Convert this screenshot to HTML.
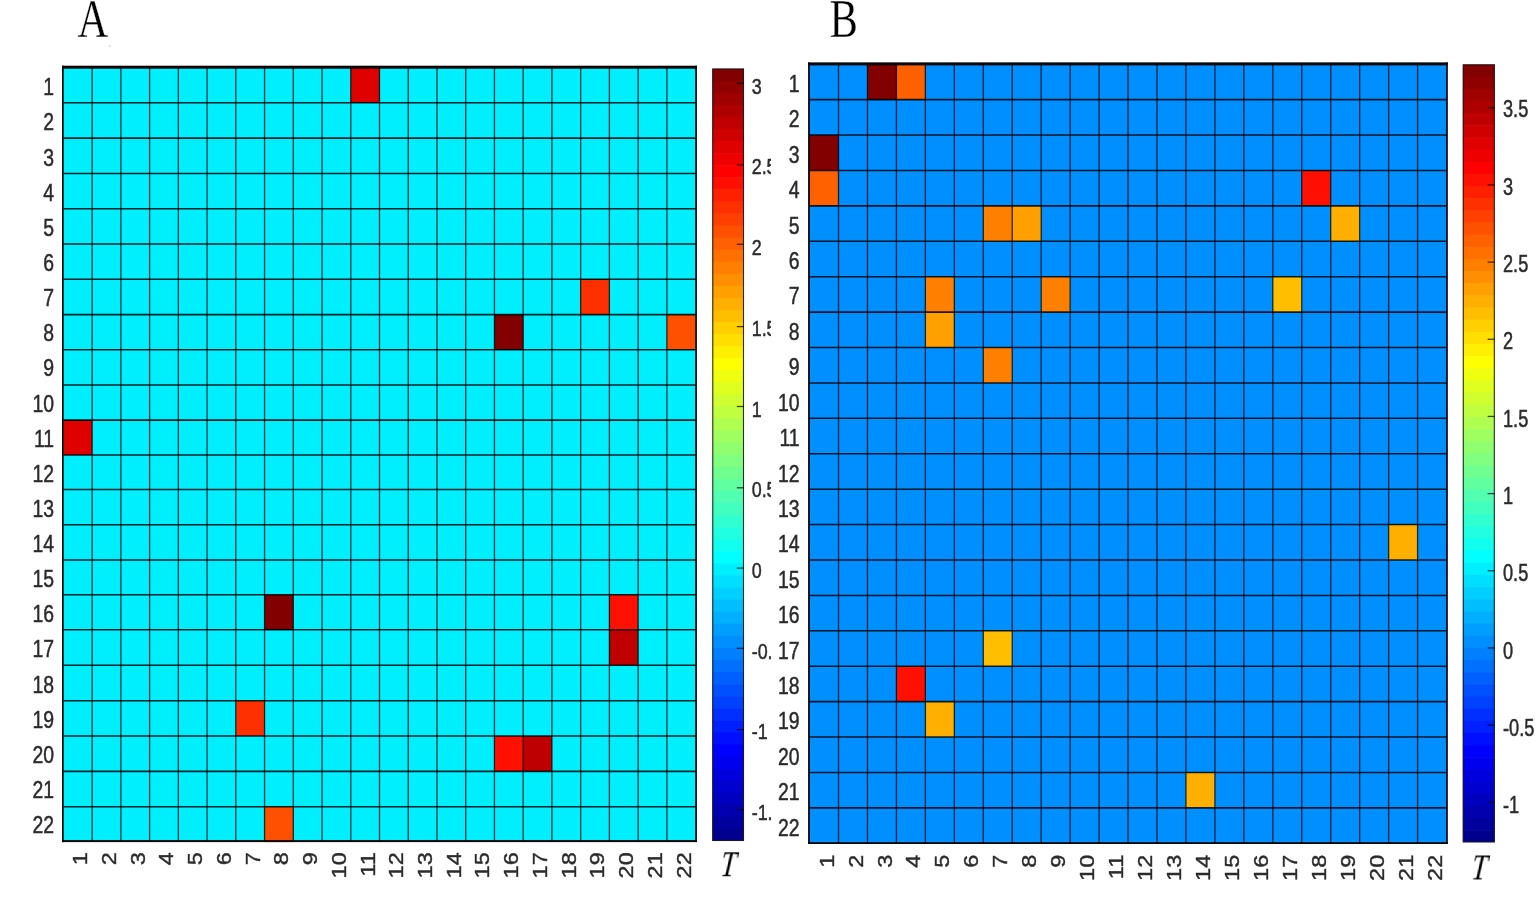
<!DOCTYPE html>
<html lang="en"><head><meta charset="utf-8"><title>Figure: T-value matrices A and B</title>
<style>
html,body{margin:0;padding:0;background:#fff;}
body{width:1535px;height:897px;overflow:hidden;}
svg{display:block;}
.fig{filter:blur(0.6px);}
.t{font-family:"Liberation Sans",sans-serif;fill:#2b2b2b;stroke:#2b2b2b;stroke-width:0.4px;}
.s{font-family:"Liberation Serif",serif;fill:#000;stroke:#fff;stroke-width:0.25px;}
</style></head><body>
<svg width="1535" height="897" viewBox="0 0 1535 897">
<rect width="1535" height="897" fill="#fff"/>
<g id="panelA">
<g class="fig">
<rect x="62.50" y="66.20" width="633.90" height="775.40" fill="#00efff"/>
<rect x="350.76" y="67.90" width="28.74" height="34.90" fill="#df0000"/>
<rect x="580.65" y="279.30" width="28.74" height="35.30" fill="#ff3000"/>
<rect x="494.45" y="314.60" width="28.74" height="35.10" fill="#820000"/>
<rect x="666.86" y="314.60" width="28.74" height="35.10" fill="#ff5000"/>
<rect x="63.40" y="420.10" width="28.74" height="34.90" fill="#df0000"/>
<rect x="264.55" y="594.70" width="28.74" height="35.10" fill="#820000"/>
<rect x="609.39" y="594.70" width="28.74" height="35.10" fill="#ff1000"/>
<rect x="609.39" y="629.80" width="28.74" height="35.45" fill="#bf0000"/>
<rect x="235.82" y="700.67" width="28.74" height="35.33" fill="#ff3000"/>
<rect x="494.45" y="736.00" width="28.74" height="35.35" fill="#ff1000"/>
<rect x="523.18" y="736.00" width="28.74" height="35.35" fill="#bf0000"/>
<rect x="264.55" y="806.70" width="28.74" height="35.40" fill="#ff5000"/>
<path d="M92.14 67.90V842.10M120.87 67.90V842.10M149.61 67.90V842.10M178.35 67.90V842.10M207.08 67.90V842.10M235.82 67.90V842.10M264.55 67.90V842.10M293.29 67.90V842.10M322.03 67.90V842.10M350.76 67.90V842.10M379.50 67.90V842.10M408.24 67.90V842.10M436.97 67.90V842.10M465.71 67.90V842.10M494.45 67.90V842.10M523.18 67.90V842.10M551.92 67.90V842.10M580.65 67.90V842.10M609.39 67.90V842.10M638.13 67.90V842.10M666.86 67.90V842.10" stroke="#000" stroke-opacity="0.76" stroke-width="1.3" fill="none"/>
<path d="M63.40 102.80H695.60M63.40 138.10H695.60M63.40 173.40H695.60M63.40 208.70H695.60M63.40 244.00H695.60M63.40 279.30H695.60M63.40 314.60H695.60M63.40 349.70H695.60M63.40 384.90H695.60M63.40 420.10H695.60M63.40 455.00H695.60M63.40 489.50H695.60M63.40 524.65H695.60M63.40 559.95H695.60M63.40 594.70H695.60M63.40 629.80H695.60M63.40 665.25H695.60M63.40 700.67H695.60M63.40 736.00H695.60M63.40 771.35H695.60M63.40 806.70H695.60" stroke="#000" stroke-opacity="0.85" stroke-width="1.55" fill="none"/>
<rect x="62.00" y="65.70" width="634.90" height="3.00" fill="#0a0505"/>
<rect x="62.00" y="840.10" width="634.90" height="2.00" fill="#0a0505"/>
<rect x="62.00" y="65.70" width="1.70" height="776.40" fill="#0a0505"/>
<rect x="695.20" y="65.70" width="1.70" height="776.40" fill="#0a0505"/>
<text class="t" text-anchor="end" font-size="19.40" transform="translate(54.10 87.05) scale(1 1.210)" y="6.77">1</text>
<text class="t" text-anchor="end" font-size="19.40" transform="translate(54.10 122.19) scale(1 1.210)" y="6.77">2</text>
<text class="t" text-anchor="end" font-size="19.40" transform="translate(54.10 157.33) scale(1 1.210)" y="6.77">3</text>
<text class="t" text-anchor="end" font-size="19.40" transform="translate(54.10 192.47) scale(1 1.210)" y="6.77">4</text>
<text class="t" text-anchor="end" font-size="19.40" transform="translate(54.10 227.61) scale(1 1.210)" y="6.77">5</text>
<text class="t" text-anchor="end" font-size="19.40" transform="translate(54.10 262.75) scale(1 1.210)" y="6.77">6</text>
<text class="t" text-anchor="end" font-size="19.40" transform="translate(54.10 297.89) scale(1 1.210)" y="6.77">7</text>
<text class="t" text-anchor="end" font-size="19.40" transform="translate(54.10 333.03) scale(1 1.210)" y="6.77">8</text>
<text class="t" text-anchor="end" font-size="19.40" transform="translate(54.10 368.17) scale(1 1.210)" y="6.77">9</text>
<text class="t" text-anchor="end" font-size="19.40" transform="translate(54.10 403.31) scale(1 1.210)" y="6.77">10</text>
<text class="t" text-anchor="end" font-size="19.40" transform="translate(54.10 438.45) scale(1 1.210)" y="6.77">11</text>
<text class="t" text-anchor="end" font-size="19.40" transform="translate(54.10 473.60) scale(1 1.210)" y="6.77">12</text>
<text class="t" text-anchor="end" font-size="19.40" transform="translate(54.10 508.74) scale(1 1.210)" y="6.77">13</text>
<text class="t" text-anchor="end" font-size="19.40" transform="translate(54.10 543.88) scale(1 1.210)" y="6.77">14</text>
<text class="t" text-anchor="end" font-size="19.40" transform="translate(54.10 579.02) scale(1 1.210)" y="6.77">15</text>
<text class="t" text-anchor="end" font-size="19.40" transform="translate(54.10 614.16) scale(1 1.210)" y="6.77">16</text>
<text class="t" text-anchor="end" font-size="19.40" transform="translate(54.10 649.30) scale(1 1.210)" y="6.77">17</text>
<text class="t" text-anchor="end" font-size="19.40" transform="translate(54.10 684.44) scale(1 1.210)" y="6.77">18</text>
<text class="t" text-anchor="end" font-size="19.40" transform="translate(54.10 719.58) scale(1 1.210)" y="6.77">19</text>
<text class="t" text-anchor="end" font-size="19.40" transform="translate(54.10 754.72) scale(1 1.210)" y="6.77">20</text>
<text class="t" text-anchor="end" font-size="19.40" transform="translate(54.10 789.86) scale(1 1.210)" y="6.77">21</text>
<text class="t" text-anchor="end" font-size="19.40" transform="translate(54.10 825.00) scale(1 1.210)" y="6.77">22</text>
<text class="t" text-anchor="end" font-size="19.40" transform="translate(80.37 852.30) scale(1 1.210) rotate(-90)" y="6.77">1</text>
<text class="t" text-anchor="end" font-size="19.40" transform="translate(109.10 852.30) scale(1 1.210) rotate(-90)" y="6.77">2</text>
<text class="t" text-anchor="end" font-size="19.40" transform="translate(137.84 852.30) scale(1 1.210) rotate(-90)" y="6.77">3</text>
<text class="t" text-anchor="end" font-size="19.40" transform="translate(166.58 852.30) scale(1 1.210) rotate(-90)" y="6.77">4</text>
<text class="t" text-anchor="end" font-size="19.40" transform="translate(195.31 852.30) scale(1 1.210) rotate(-90)" y="6.77">5</text>
<text class="t" text-anchor="end" font-size="19.40" transform="translate(224.05 852.30) scale(1 1.210) rotate(-90)" y="6.77">6</text>
<text class="t" text-anchor="end" font-size="19.40" transform="translate(252.79 852.30) scale(1 1.210) rotate(-90)" y="6.77">7</text>
<text class="t" text-anchor="end" font-size="19.40" transform="translate(281.52 852.30) scale(1 1.210) rotate(-90)" y="6.77">8</text>
<text class="t" text-anchor="end" font-size="19.40" transform="translate(310.26 852.30) scale(1 1.210) rotate(-90)" y="6.77">9</text>
<text class="t" text-anchor="end" font-size="19.40" transform="translate(339.00 852.30) scale(1 1.210) rotate(-90)" y="6.77">10</text>
<text class="t" text-anchor="end" font-size="19.40" transform="translate(367.73 852.30) scale(1 1.210) rotate(-90)" y="6.77">11</text>
<text class="t" text-anchor="end" font-size="19.40" transform="translate(396.47 852.30) scale(1 1.210) rotate(-90)" y="6.77">12</text>
<text class="t" text-anchor="end" font-size="19.40" transform="translate(425.20 852.30) scale(1 1.210) rotate(-90)" y="6.77">13</text>
<text class="t" text-anchor="end" font-size="19.40" transform="translate(453.94 852.30) scale(1 1.210) rotate(-90)" y="6.77">14</text>
<text class="t" text-anchor="end" font-size="19.40" transform="translate(482.68 852.30) scale(1 1.210) rotate(-90)" y="6.77">15</text>
<text class="t" text-anchor="end" font-size="19.40" transform="translate(511.41 852.30) scale(1 1.210) rotate(-90)" y="6.77">16</text>
<text class="t" text-anchor="end" font-size="19.40" transform="translate(540.15 852.30) scale(1 1.210) rotate(-90)" y="6.77">17</text>
<text class="t" text-anchor="end" font-size="19.40" transform="translate(568.89 852.30) scale(1 1.210) rotate(-90)" y="6.77">18</text>
<text class="t" text-anchor="end" font-size="19.40" transform="translate(597.62 852.30) scale(1 1.210) rotate(-90)" y="6.77">19</text>
<text class="t" text-anchor="end" font-size="19.40" transform="translate(626.36 852.30) scale(1 1.210) rotate(-90)" y="6.77">20</text>
<text class="t" text-anchor="end" font-size="19.40" transform="translate(655.10 852.30) scale(1 1.210) rotate(-90)" y="6.77">21</text>
<text class="t" text-anchor="end" font-size="19.40" transform="translate(683.83 852.30) scale(1 1.210) rotate(-90)" y="6.77">22</text>
<rect x="712.30" y="68.60" width="31.70" height="12.67" fill="#820000"/>
<rect x="712.30" y="80.67" width="31.70" height="12.67" fill="#8f0000"/>
<rect x="712.30" y="92.74" width="31.70" height="12.67" fill="#9f0000"/>
<rect x="712.30" y="104.81" width="31.70" height="12.67" fill="#af0000"/>
<rect x="712.30" y="116.88" width="31.70" height="12.67" fill="#bf0000"/>
<rect x="712.30" y="128.94" width="31.70" height="12.67" fill="#cf0000"/>
<rect x="712.30" y="141.01" width="31.70" height="12.67" fill="#df0000"/>
<rect x="712.30" y="153.08" width="31.70" height="12.67" fill="#ef0000"/>
<rect x="712.30" y="165.15" width="31.70" height="12.67" fill="#ff0000"/>
<rect x="712.30" y="177.22" width="31.70" height="12.67" fill="#ff1000"/>
<rect x="712.30" y="189.29" width="31.70" height="12.67" fill="#ff2000"/>
<rect x="712.30" y="201.36" width="31.70" height="12.67" fill="#ff3000"/>
<rect x="712.30" y="213.42" width="31.70" height="12.67" fill="#ff4000"/>
<rect x="712.30" y="225.49" width="31.70" height="12.67" fill="#ff5000"/>
<rect x="712.30" y="237.56" width="31.70" height="12.67" fill="#ff6000"/>
<rect x="712.30" y="249.63" width="31.70" height="12.67" fill="#ff7000"/>
<rect x="712.30" y="261.70" width="31.70" height="12.67" fill="#ff8000"/>
<rect x="712.30" y="273.77" width="31.70" height="12.67" fill="#ff8f00"/>
<rect x="712.30" y="285.84" width="31.70" height="12.67" fill="#ff9f00"/>
<rect x="712.30" y="297.91" width="31.70" height="12.67" fill="#ffaf00"/>
<rect x="712.30" y="309.98" width="31.70" height="12.67" fill="#ffbf00"/>
<rect x="712.30" y="322.04" width="31.70" height="12.67" fill="#ffcf00"/>
<rect x="712.30" y="334.11" width="31.70" height="12.67" fill="#ffdf00"/>
<rect x="712.30" y="346.18" width="31.70" height="12.67" fill="#ffef00"/>
<rect x="712.30" y="358.25" width="31.70" height="12.67" fill="#ffff00"/>
<rect x="712.30" y="370.32" width="31.70" height="12.67" fill="#efff10"/>
<rect x="712.30" y="382.39" width="31.70" height="12.67" fill="#dfff20"/>
<rect x="712.30" y="394.46" width="31.70" height="12.67" fill="#cfff30"/>
<rect x="712.30" y="406.52" width="31.70" height="12.67" fill="#bfff40"/>
<rect x="712.30" y="418.59" width="31.70" height="12.67" fill="#afff50"/>
<rect x="712.30" y="430.66" width="31.70" height="12.67" fill="#9fff60"/>
<rect x="712.30" y="442.73" width="31.70" height="12.67" fill="#8fff70"/>
<rect x="712.30" y="454.80" width="31.70" height="12.67" fill="#80ff80"/>
<rect x="712.30" y="466.87" width="31.70" height="12.67" fill="#70ff8f"/>
<rect x="712.30" y="478.94" width="31.70" height="12.67" fill="#60ff9f"/>
<rect x="712.30" y="491.01" width="31.70" height="12.67" fill="#50ffaf"/>
<rect x="712.30" y="503.07" width="31.70" height="12.67" fill="#40ffbf"/>
<rect x="712.30" y="515.14" width="31.70" height="12.67" fill="#30ffcf"/>
<rect x="712.30" y="527.21" width="31.70" height="12.67" fill="#20ffdf"/>
<rect x="712.30" y="539.28" width="31.70" height="12.67" fill="#10ffef"/>
<rect x="712.30" y="551.35" width="31.70" height="12.67" fill="#00ffff"/>
<rect x="712.30" y="563.42" width="31.70" height="12.67" fill="#00efff"/>
<rect x="712.30" y="575.49" width="31.70" height="12.67" fill="#00dfff"/>
<rect x="712.30" y="587.56" width="31.70" height="12.67" fill="#00cfff"/>
<rect x="712.30" y="599.62" width="31.70" height="12.67" fill="#00bfff"/>
<rect x="712.30" y="611.69" width="31.70" height="12.67" fill="#00afff"/>
<rect x="712.30" y="623.76" width="31.70" height="12.67" fill="#009fff"/>
<rect x="712.30" y="635.83" width="31.70" height="12.67" fill="#008fff"/>
<rect x="712.30" y="647.90" width="31.70" height="12.67" fill="#0080ff"/>
<rect x="712.30" y="659.97" width="31.70" height="12.67" fill="#0070ff"/>
<rect x="712.30" y="672.04" width="31.70" height="12.67" fill="#0060ff"/>
<rect x="712.30" y="684.11" width="31.70" height="12.67" fill="#0050ff"/>
<rect x="712.30" y="696.17" width="31.70" height="12.67" fill="#0040ff"/>
<rect x="712.30" y="708.24" width="31.70" height="12.67" fill="#0030ff"/>
<rect x="712.30" y="720.31" width="31.70" height="12.67" fill="#0020ff"/>
<rect x="712.30" y="732.38" width="31.70" height="12.67" fill="#0010ff"/>
<rect x="712.30" y="744.45" width="31.70" height="12.67" fill="#0000ff"/>
<rect x="712.30" y="756.52" width="31.70" height="12.67" fill="#0000ef"/>
<rect x="712.30" y="768.59" width="31.70" height="12.67" fill="#0000df"/>
<rect x="712.30" y="780.66" width="31.70" height="12.67" fill="#0000cf"/>
<rect x="712.30" y="792.73" width="31.70" height="12.67" fill="#0000bf"/>
<rect x="712.30" y="804.79" width="31.70" height="12.67" fill="#0000af"/>
<rect x="712.30" y="816.86" width="31.70" height="12.67" fill="#00009f"/>
<rect x="712.30" y="828.93" width="31.70" height="12.07" fill="#00008f"/>
<rect x="712.80" y="69.10" width="30.70" height="771.40" fill="none" stroke="#1a1a1a" stroke-opacity="0.9" stroke-width="1.1"/>
<clipPath id="clipA"><rect x="0" y="0" width="770.60" height="897"/></clipPath>
<g clip-path="url(#clipA)">
<rect x="736.80" y="82.65" width="7.20" height="1.3" fill="#000" fill-opacity="0.7"/>
<text class="t" font-size="17.90" transform="translate(751.70 85.90) scale(1 1.250)" y="6.25">3</text>
<rect x="736.80" y="164.25" width="7.20" height="1.3" fill="#000" fill-opacity="0.7"/>
<text class="t" font-size="17.90" transform="translate(751.70 166.62) scale(1 1.250)" y="6.25">2.5</text>
<rect x="736.80" y="243.65" width="7.20" height="1.3" fill="#000" fill-opacity="0.7"/>
<text class="t" font-size="17.90" transform="translate(751.70 247.34) scale(1 1.250)" y="6.25">2</text>
<rect x="736.80" y="325.95" width="7.20" height="1.3" fill="#000" fill-opacity="0.7"/>
<text class="t" font-size="17.90" transform="translate(751.70 328.06) scale(1 1.250)" y="6.25">1.5</text>
<rect x="736.80" y="405.85" width="7.20" height="1.3" fill="#000" fill-opacity="0.7"/>
<text class="t" font-size="17.90" transform="translate(751.70 408.78) scale(1 1.250)" y="6.25">1</text>
<rect x="736.80" y="487.15" width="7.20" height="1.3" fill="#000" fill-opacity="0.7"/>
<text class="t" font-size="17.90" transform="translate(751.70 489.50) scale(1 1.250)" y="6.25">0.5</text>
<rect x="736.80" y="567.45" width="7.20" height="1.3" fill="#000" fill-opacity="0.7"/>
<text class="t" font-size="17.90" transform="translate(751.70 570.22) scale(1 1.250)" y="6.25">0</text>
<rect x="736.80" y="647.65" width="7.20" height="1.3" fill="#000" fill-opacity="0.7"/>
<text class="t" font-size="17.90" transform="translate(751.70 650.94) scale(1 1.250)" y="6.25">-0.5</text>
<rect x="736.80" y="729.05" width="7.20" height="1.3" fill="#000" fill-opacity="0.7"/>
<text class="t" font-size="17.90" transform="translate(751.70 731.66) scale(1 1.250)" y="6.25">-1</text>
<rect x="736.80" y="809.15" width="7.20" height="1.3" fill="#000" fill-opacity="0.7"/>
<text class="t" font-size="17.90" transform="translate(751.70 812.38) scale(1 1.250)" y="6.25">-1.5</text>
</g>
</g>
<g class="ann">
<text class="s" font-size="42.6" transform="translate(77.50 36.60) scale(1 1.270)">A</text>
<text class="s" style="stroke:none" font-style="italic" font-size="28" transform="translate(719.80 875.80) scale(1 1.290) skewX(-7)">T</text>
</g>
</g>
<g id="panelB">
<g class="fig">
<rect x="808.60" y="62.90" width="638.70" height="780.60" fill="#008fff"/>
<rect x="867.47" y="64.21" width="28.95" height="35.41" fill="#820000"/>
<rect x="896.42" y="64.21" width="28.95" height="35.41" fill="#ff6000"/>
<rect x="809.56" y="135.04" width="28.95" height="35.41" fill="#820000"/>
<rect x="809.56" y="170.45" width="28.95" height="35.41" fill="#ff6000"/>
<rect x="1301.76" y="170.45" width="28.95" height="35.41" fill="#ff1000"/>
<rect x="983.28" y="205.86" width="28.95" height="35.41" fill="#ff8000"/>
<rect x="1012.23" y="205.86" width="28.95" height="35.41" fill="#ff9f00"/>
<rect x="1330.72" y="205.86" width="28.95" height="35.41" fill="#ffaf00"/>
<rect x="925.37" y="276.69" width="28.95" height="35.41" fill="#ff8000"/>
<rect x="1041.19" y="276.69" width="28.95" height="35.41" fill="#ff8000"/>
<rect x="1272.81" y="276.69" width="28.95" height="35.41" fill="#ffbf00"/>
<rect x="925.37" y="312.10" width="28.95" height="35.41" fill="#ff9f00"/>
<rect x="983.28" y="347.51" width="28.95" height="35.41" fill="#ff8000"/>
<rect x="1388.62" y="524.58" width="28.95" height="35.41" fill="#ffaf00"/>
<rect x="983.28" y="630.81" width="28.95" height="35.41" fill="#ffbf00"/>
<rect x="896.42" y="666.23" width="28.95" height="35.41" fill="#ff1000"/>
<rect x="925.37" y="701.64" width="28.95" height="35.41" fill="#ffaf00"/>
<rect x="1185.95" y="772.46" width="28.95" height="35.41" fill="#ffaf00"/>
<path d="M838.51 64.21V843.29M867.47 64.21V843.29M896.42 64.21V843.29M925.37 64.21V843.29M954.33 64.21V843.29M983.28 64.21V843.29M1012.23 64.21V843.29M1041.19 64.21V843.29M1070.14 64.21V843.29M1099.09 64.21V843.29M1128.05 64.21V843.29M1157.00 64.21V843.29M1185.95 64.21V843.29M1214.90 64.21V843.29M1243.86 64.21V843.29M1272.81 64.21V843.29M1301.76 64.21V843.29M1330.72 64.21V843.29M1359.67 64.21V843.29M1388.62 64.21V843.29M1417.58 64.21V843.29" stroke="#000" stroke-opacity="0.76" stroke-width="1.3" fill="none"/>
<path d="M809.56 99.62H1446.53M809.56 135.04H1446.53M809.56 170.45H1446.53M809.56 205.86H1446.53M809.56 241.27H1446.53M809.56 276.69H1446.53M809.56 312.10H1446.53M809.56 347.51H1446.53M809.56 382.92H1446.53M809.56 418.34H1446.53M809.56 453.75H1446.53M809.56 489.16H1446.53M809.56 524.58H1446.53M809.56 559.99H1446.53M809.56 595.40H1446.53M809.56 630.81H1446.53M809.56 666.23H1446.53M809.56 701.64H1446.53M809.56 737.05H1446.53M809.56 772.46H1446.53M809.56 807.88H1446.53" stroke="#000" stroke-opacity="0.85" stroke-width="1.55" fill="none"/>
<rect x="808.10" y="62.40" width="639.70" height="3.00" fill="#0a0505"/>
<rect x="808.10" y="842.20" width="639.70" height="1.80" fill="#0a0505"/>
<rect x="808.10" y="62.40" width="1.80" height="781.60" fill="#0a0505"/>
<rect x="1446.10" y="62.40" width="1.70" height="781.60" fill="#0a0505"/>
<text class="t" text-anchor="end" font-size="19.40" transform="translate(799.60 83.82) scale(1 1.210)" y="6.77">1</text>
<text class="t" text-anchor="end" font-size="19.40" transform="translate(799.60 119.23) scale(1 1.210)" y="6.77">2</text>
<text class="t" text-anchor="end" font-size="19.40" transform="translate(799.60 154.64) scale(1 1.210)" y="6.77">3</text>
<text class="t" text-anchor="end" font-size="19.40" transform="translate(799.60 190.05) scale(1 1.210)" y="6.77">4</text>
<text class="t" text-anchor="end" font-size="19.40" transform="translate(799.60 225.47) scale(1 1.210)" y="6.77">5</text>
<text class="t" text-anchor="end" font-size="19.40" transform="translate(799.60 260.88) scale(1 1.210)" y="6.77">6</text>
<text class="t" text-anchor="end" font-size="19.40" transform="translate(799.60 296.29) scale(1 1.210)" y="6.77">7</text>
<text class="t" text-anchor="end" font-size="19.40" transform="translate(799.60 331.71) scale(1 1.210)" y="6.77">8</text>
<text class="t" text-anchor="end" font-size="19.40" transform="translate(799.60 367.12) scale(1 1.210)" y="6.77">9</text>
<text class="t" text-anchor="end" font-size="19.40" transform="translate(799.60 402.53) scale(1 1.210)" y="6.77">10</text>
<text class="t" text-anchor="end" font-size="19.40" transform="translate(799.60 437.94) scale(1 1.210)" y="6.77">11</text>
<text class="t" text-anchor="end" font-size="19.40" transform="translate(799.60 473.36) scale(1 1.210)" y="6.77">12</text>
<text class="t" text-anchor="end" font-size="19.40" transform="translate(799.60 508.77) scale(1 1.210)" y="6.77">13</text>
<text class="t" text-anchor="end" font-size="19.40" transform="translate(799.60 544.18) scale(1 1.210)" y="6.77">14</text>
<text class="t" text-anchor="end" font-size="19.40" transform="translate(799.60 579.59) scale(1 1.210)" y="6.77">15</text>
<text class="t" text-anchor="end" font-size="19.40" transform="translate(799.60 615.01) scale(1 1.210)" y="6.77">16</text>
<text class="t" text-anchor="end" font-size="19.40" transform="translate(799.60 650.42) scale(1 1.210)" y="6.77">17</text>
<text class="t" text-anchor="end" font-size="19.40" transform="translate(799.60 685.83) scale(1 1.210)" y="6.77">18</text>
<text class="t" text-anchor="end" font-size="19.40" transform="translate(799.60 721.25) scale(1 1.210)" y="6.77">19</text>
<text class="t" text-anchor="end" font-size="19.40" transform="translate(799.60 756.66) scale(1 1.210)" y="6.77">20</text>
<text class="t" text-anchor="end" font-size="19.40" transform="translate(799.60 792.07) scale(1 1.210)" y="6.77">21</text>
<text class="t" text-anchor="end" font-size="19.40" transform="translate(799.60 827.48) scale(1 1.210)" y="6.77">22</text>
<text class="t" text-anchor="end" font-size="19.40" transform="translate(826.84 854.80) scale(1 1.210) rotate(-90)" y="6.77">1</text>
<text class="t" text-anchor="end" font-size="19.40" transform="translate(855.79 854.80) scale(1 1.210) rotate(-90)" y="6.77">2</text>
<text class="t" text-anchor="end" font-size="19.40" transform="translate(884.74 854.80) scale(1 1.210) rotate(-90)" y="6.77">3</text>
<text class="t" text-anchor="end" font-size="19.40" transform="translate(913.70 854.80) scale(1 1.210) rotate(-90)" y="6.77">4</text>
<text class="t" text-anchor="end" font-size="19.40" transform="translate(942.65 854.80) scale(1 1.210) rotate(-90)" y="6.77">5</text>
<text class="t" text-anchor="end" font-size="19.40" transform="translate(971.60 854.80) scale(1 1.210) rotate(-90)" y="6.77">6</text>
<text class="t" text-anchor="end" font-size="19.40" transform="translate(1000.56 854.80) scale(1 1.210) rotate(-90)" y="6.77">7</text>
<text class="t" text-anchor="end" font-size="19.40" transform="translate(1029.51 854.80) scale(1 1.210) rotate(-90)" y="6.77">8</text>
<text class="t" text-anchor="end" font-size="19.40" transform="translate(1058.46 854.80) scale(1 1.210) rotate(-90)" y="6.77">9</text>
<text class="t" text-anchor="end" font-size="19.40" transform="translate(1087.42 854.80) scale(1 1.210) rotate(-90)" y="6.77">10</text>
<text class="t" text-anchor="end" font-size="19.40" transform="translate(1116.37 854.80) scale(1 1.210) rotate(-90)" y="6.77">11</text>
<text class="t" text-anchor="end" font-size="19.40" transform="translate(1145.32 854.80) scale(1 1.210) rotate(-90)" y="6.77">12</text>
<text class="t" text-anchor="end" font-size="19.40" transform="translate(1174.27 854.80) scale(1 1.210) rotate(-90)" y="6.77">13</text>
<text class="t" text-anchor="end" font-size="19.40" transform="translate(1203.23 854.80) scale(1 1.210) rotate(-90)" y="6.77">14</text>
<text class="t" text-anchor="end" font-size="19.40" transform="translate(1232.18 854.80) scale(1 1.210) rotate(-90)" y="6.77">15</text>
<text class="t" text-anchor="end" font-size="19.40" transform="translate(1261.13 854.80) scale(1 1.210) rotate(-90)" y="6.77">16</text>
<text class="t" text-anchor="end" font-size="19.40" transform="translate(1290.09 854.80) scale(1 1.210) rotate(-90)" y="6.77">17</text>
<text class="t" text-anchor="end" font-size="19.40" transform="translate(1319.04 854.80) scale(1 1.210) rotate(-90)" y="6.77">18</text>
<text class="t" text-anchor="end" font-size="19.40" transform="translate(1347.99 854.80) scale(1 1.210) rotate(-90)" y="6.77">19</text>
<text class="t" text-anchor="end" font-size="19.40" transform="translate(1376.95 854.80) scale(1 1.210) rotate(-90)" y="6.77">20</text>
<text class="t" text-anchor="end" font-size="19.40" transform="translate(1405.90 854.80) scale(1 1.210) rotate(-90)" y="6.77">21</text>
<text class="t" text-anchor="end" font-size="19.40" transform="translate(1434.85 854.80) scale(1 1.210) rotate(-90)" y="6.77">22</text>
<rect x="1462.80" y="64.40" width="32.00" height="12.75" fill="#820000"/>
<rect x="1462.80" y="76.55" width="32.00" height="12.75" fill="#8f0000"/>
<rect x="1462.80" y="88.71" width="32.00" height="12.75" fill="#9f0000"/>
<rect x="1462.80" y="100.86" width="32.00" height="12.75" fill="#af0000"/>
<rect x="1462.80" y="113.02" width="32.00" height="12.75" fill="#bf0000"/>
<rect x="1462.80" y="125.17" width="32.00" height="12.75" fill="#cf0000"/>
<rect x="1462.80" y="137.33" width="32.00" height="12.75" fill="#df0000"/>
<rect x="1462.80" y="149.48" width="32.00" height="12.75" fill="#ef0000"/>
<rect x="1462.80" y="161.64" width="32.00" height="12.75" fill="#ff0000"/>
<rect x="1462.80" y="173.79" width="32.00" height="12.75" fill="#ff1000"/>
<rect x="1462.80" y="185.95" width="32.00" height="12.75" fill="#ff2000"/>
<rect x="1462.80" y="198.10" width="32.00" height="12.75" fill="#ff3000"/>
<rect x="1462.80" y="210.26" width="32.00" height="12.75" fill="#ff4000"/>
<rect x="1462.80" y="222.41" width="32.00" height="12.75" fill="#ff5000"/>
<rect x="1462.80" y="234.57" width="32.00" height="12.75" fill="#ff6000"/>
<rect x="1462.80" y="246.72" width="32.00" height="12.75" fill="#ff7000"/>
<rect x="1462.80" y="258.88" width="32.00" height="12.75" fill="#ff8000"/>
<rect x="1462.80" y="271.03" width="32.00" height="12.75" fill="#ff8f00"/>
<rect x="1462.80" y="283.18" width="32.00" height="12.75" fill="#ff9f00"/>
<rect x="1462.80" y="295.34" width="32.00" height="12.75" fill="#ffaf00"/>
<rect x="1462.80" y="307.49" width="32.00" height="12.75" fill="#ffbf00"/>
<rect x="1462.80" y="319.65" width="32.00" height="12.75" fill="#ffcf00"/>
<rect x="1462.80" y="331.80" width="32.00" height="12.75" fill="#ffdf00"/>
<rect x="1462.80" y="343.96" width="32.00" height="12.75" fill="#ffef00"/>
<rect x="1462.80" y="356.11" width="32.00" height="12.75" fill="#ffff00"/>
<rect x="1462.80" y="368.27" width="32.00" height="12.75" fill="#efff10"/>
<rect x="1462.80" y="380.42" width="32.00" height="12.75" fill="#dfff20"/>
<rect x="1462.80" y="392.58" width="32.00" height="12.75" fill="#cfff30"/>
<rect x="1462.80" y="404.73" width="32.00" height="12.75" fill="#bfff40"/>
<rect x="1462.80" y="416.89" width="32.00" height="12.75" fill="#afff50"/>
<rect x="1462.80" y="429.04" width="32.00" height="12.75" fill="#9fff60"/>
<rect x="1462.80" y="441.20" width="32.00" height="12.75" fill="#8fff70"/>
<rect x="1462.80" y="453.35" width="32.00" height="12.75" fill="#80ff80"/>
<rect x="1462.80" y="465.50" width="32.00" height="12.75" fill="#70ff8f"/>
<rect x="1462.80" y="477.66" width="32.00" height="12.75" fill="#60ff9f"/>
<rect x="1462.80" y="489.81" width="32.00" height="12.75" fill="#50ffaf"/>
<rect x="1462.80" y="501.97" width="32.00" height="12.75" fill="#40ffbf"/>
<rect x="1462.80" y="514.12" width="32.00" height="12.75" fill="#30ffcf"/>
<rect x="1462.80" y="526.28" width="32.00" height="12.75" fill="#20ffdf"/>
<rect x="1462.80" y="538.43" width="32.00" height="12.75" fill="#10ffef"/>
<rect x="1462.80" y="550.59" width="32.00" height="12.75" fill="#00ffff"/>
<rect x="1462.80" y="562.74" width="32.00" height="12.75" fill="#00efff"/>
<rect x="1462.80" y="574.90" width="32.00" height="12.75" fill="#00dfff"/>
<rect x="1462.80" y="587.05" width="32.00" height="12.75" fill="#00cfff"/>
<rect x="1462.80" y="599.21" width="32.00" height="12.75" fill="#00bfff"/>
<rect x="1462.80" y="611.36" width="32.00" height="12.75" fill="#00afff"/>
<rect x="1462.80" y="623.52" width="32.00" height="12.75" fill="#009fff"/>
<rect x="1462.80" y="635.67" width="32.00" height="12.75" fill="#008fff"/>
<rect x="1462.80" y="647.82" width="32.00" height="12.75" fill="#0080ff"/>
<rect x="1462.80" y="659.98" width="32.00" height="12.75" fill="#0070ff"/>
<rect x="1462.80" y="672.13" width="32.00" height="12.75" fill="#0060ff"/>
<rect x="1462.80" y="684.29" width="32.00" height="12.75" fill="#0050ff"/>
<rect x="1462.80" y="696.44" width="32.00" height="12.75" fill="#0040ff"/>
<rect x="1462.80" y="708.60" width="32.00" height="12.75" fill="#0030ff"/>
<rect x="1462.80" y="720.75" width="32.00" height="12.75" fill="#0020ff"/>
<rect x="1462.80" y="732.91" width="32.00" height="12.75" fill="#0010ff"/>
<rect x="1462.80" y="745.06" width="32.00" height="12.75" fill="#0000ff"/>
<rect x="1462.80" y="757.22" width="32.00" height="12.75" fill="#0000ef"/>
<rect x="1462.80" y="769.37" width="32.00" height="12.75" fill="#0000df"/>
<rect x="1462.80" y="781.53" width="32.00" height="12.75" fill="#0000cf"/>
<rect x="1462.80" y="793.68" width="32.00" height="12.75" fill="#0000bf"/>
<rect x="1462.80" y="805.84" width="32.00" height="12.75" fill="#0000af"/>
<rect x="1462.80" y="817.99" width="32.00" height="12.75" fill="#00009f"/>
<rect x="1462.80" y="830.15" width="32.00" height="12.15" fill="#00008f"/>
<rect x="1463.30" y="64.90" width="31.00" height="776.90" fill="none" stroke="#1a1a1a" stroke-opacity="0.9" stroke-width="1.1"/>
<clipPath id="clipB"><rect x="0" y="0" width="1535.00" height="897"/></clipPath>
<g clip-path="url(#clipB)">
<rect x="1487.60" y="107.15" width="7.20" height="1.3" fill="#000" fill-opacity="0.7"/>
<text class="t" font-size="18.20" transform="translate(1503.00 109.10) scale(1 1.300)" y="6.35">3.5</text>
<rect x="1487.60" y="184.31" width="7.20" height="1.3" fill="#000" fill-opacity="0.7"/>
<text class="t" font-size="18.20" transform="translate(1503.00 186.43) scale(1 1.300)" y="6.35">3</text>
<rect x="1487.60" y="261.47" width="7.20" height="1.3" fill="#000" fill-opacity="0.7"/>
<text class="t" font-size="18.20" transform="translate(1503.00 263.76) scale(1 1.300)" y="6.35">2.5</text>
<rect x="1487.60" y="338.63" width="7.20" height="1.3" fill="#000" fill-opacity="0.7"/>
<text class="t" font-size="18.20" transform="translate(1503.00 341.09) scale(1 1.300)" y="6.35">2</text>
<rect x="1487.60" y="415.79" width="7.20" height="1.3" fill="#000" fill-opacity="0.7"/>
<text class="t" font-size="18.20" transform="translate(1503.00 418.42) scale(1 1.300)" y="6.35">1.5</text>
<rect x="1487.60" y="492.95" width="7.20" height="1.3" fill="#000" fill-opacity="0.7"/>
<text class="t" font-size="18.20" transform="translate(1503.00 495.75) scale(1 1.300)" y="6.35">1</text>
<rect x="1487.60" y="570.11" width="7.20" height="1.3" fill="#000" fill-opacity="0.7"/>
<text class="t" font-size="18.20" transform="translate(1503.00 573.08) scale(1 1.300)" y="6.35">0.5</text>
<rect x="1487.60" y="647.27" width="7.20" height="1.3" fill="#000" fill-opacity="0.7"/>
<text class="t" font-size="18.20" transform="translate(1503.00 650.41) scale(1 1.300)" y="6.35">0</text>
<rect x="1487.60" y="724.43" width="7.20" height="1.3" fill="#000" fill-opacity="0.7"/>
<text class="t" font-size="18.20" transform="translate(1503.00 727.74) scale(1 1.300)" y="6.35">-0.5</text>
<rect x="1487.60" y="801.59" width="7.20" height="1.3" fill="#000" fill-opacity="0.7"/>
<text class="t" font-size="18.20" transform="translate(1503.00 805.07) scale(1 1.300)" y="6.35">-1</text>
</g>
</g>
<g class="ann">
<text class="s" font-size="42.6" transform="translate(829.50 36.60) scale(1 1.270)">B</text>
<text class="s" style="stroke:none" font-style="italic" font-size="28" transform="translate(1470.80 879.00) scale(1 1.290) skewX(-7)">T</text>
</g>
</g>
<path d="M109.2 47.0L110.6 45.2" stroke="#777" stroke-width="0.7" stroke-opacity="0.7" fill="none"/>
</svg>
</body></html>
